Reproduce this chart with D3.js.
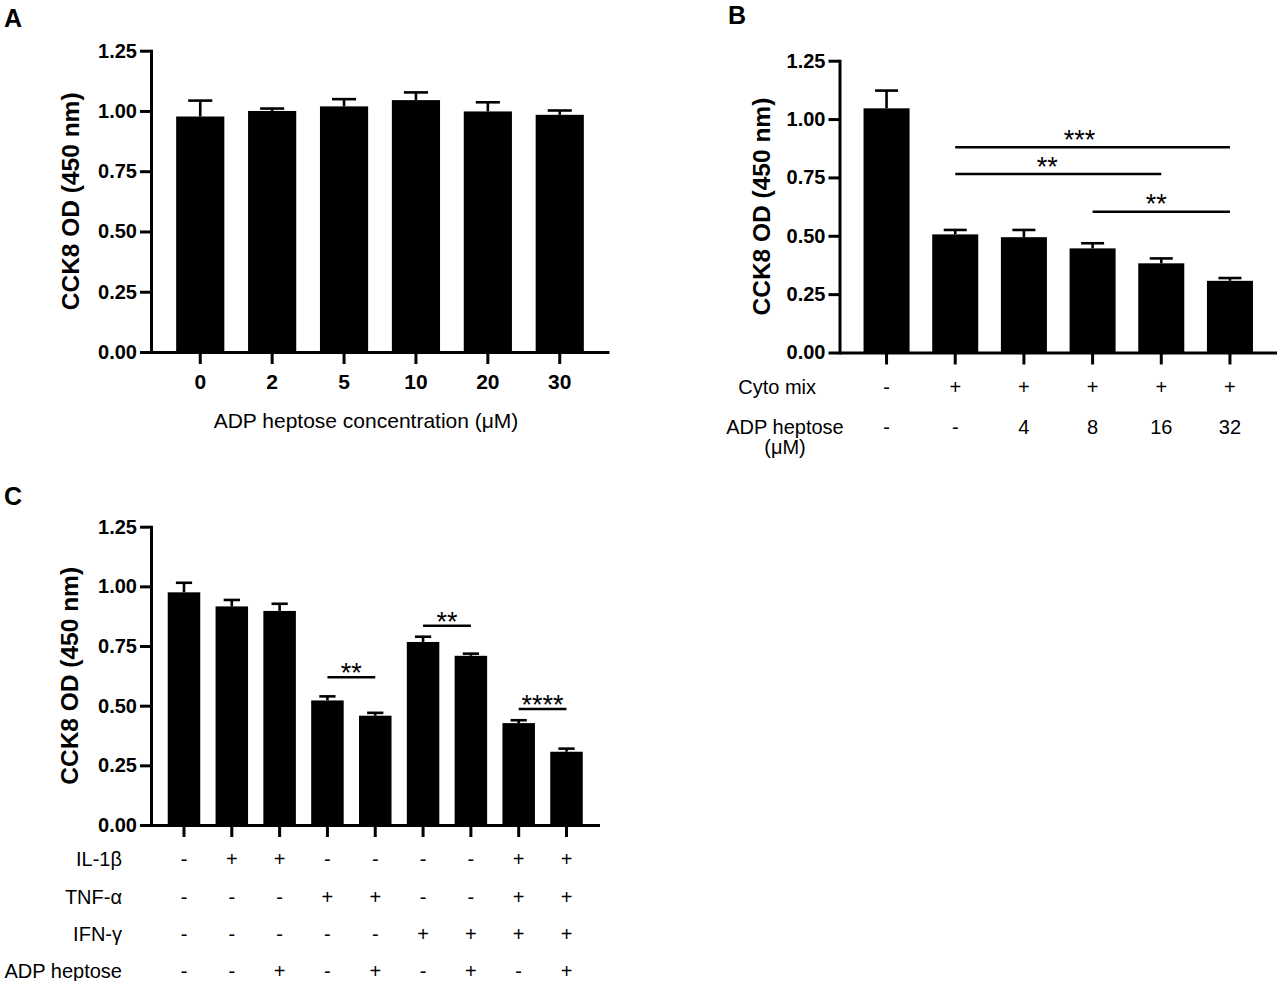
<!DOCTYPE html>
<html><head><meta charset="utf-8">
<script src="https://cdn.jsdelivr.net/npm/d3@7"></script>
<style>
body{margin:0;background:#fff}
svg{display:block}
text{font-family:'Liberation Sans',Arial,Helvetica,sans-serif;fill:#000}
</style>
</head><body>
<svg id="chart" width="1277" height="981"></svg>
<script>
// ---------- data ----------
const yTickValues = [0, 0.25, 0.5, 0.75, 1.0, 1.25];
const yAxisTitle = "CCK8 OD (450 nm)";

// Panel A
const aCategories = ["0", "2", "5", "10", "20", "30"];
const aMeans = [0.977, 1.000, 1.019, 1.045, 0.998, 0.984];
const aSem   = [0.066, 0.010, 0.030, 0.032, 0.038, 0.018];
const aXTitle = "ADP heptose concentration (\u03BCM)";

// Panel B
const bCategories = ["b1", "b2", "b3", "b4", "b5", "b6"];
const bMeans = [1.046, 0.506, 0.494, 0.446, 0.382, 0.307];
const bSem   = [0.076, 0.019, 0.031, 0.022, 0.021, 0.012];
const bRowNames = ["Cyto mix", "ADP heptose"];
const bCytoMix = ["-", "+", "+", "+", "+", "+"];
const bHeptose = ["-", "-", "4", "8", "16", "32"];
const bSigFrom  = [1, 1, 3];
const bSigTo    = [5, 4, 5];
const bSigLevel = [0.879, 0.765, 0.603];
const bSigLabel = ["***", "**", "**"];

// Panel C
const cCategories = ["c1", "c2", "c3", "c4", "c5", "c6", "c7", "c8", "c9"];
const cMeans = [0.975, 0.916, 0.897, 0.522, 0.458, 0.767, 0.709, 0.427, 0.307];
const cSem   = [0.040, 0.027, 0.030, 0.017, 0.012, 0.022, 0.009, 0.012, 0.013];
const cRowNames = ["IL-1\u03B2", "TNF-\u03B1", "IFN-\u03B3", "ADP heptose"];
const cIL1b    = ["-", "+", "+", "-", "-", "-", "-", "+", "+"];
const cTNFa    = ["-", "-", "-", "+", "+", "-", "-", "+", "+"];
const cIFNg    = ["-", "-", "-", "-", "-", "+", "+", "+", "+"];
const cHeptose = ["-", "-", "+", "-", "+", "-", "+", "-", "+"];
const cSigFrom  = [3, 5, 7];
const cSigTo    = [4, 6, 8];
const cSigLevel = [0.619, 0.835, 0.486];
const cSigLabel = ["**", "**", "****"];

// ---------- drawing ----------
const svg = d3.select("#chart");
const STAR_FS = 27;

function drawPanel(o) {
  const g = svg.append("g");
  const y = d3.scaleLinear().domain([0, 1.25]).range([o.yBottom, o.yTop]);
  const x = d3.scaleBand().domain(o.categories).range([o.xLeft, o.xRight])
    .paddingInner(o.pad).paddingOuter(0.35);
  const bw = x.bandwidth();
  const cx = c => x(c) + bw / 2;

  // bars
  g.selectAll("rect.bar").data(o.categories).join("rect")
    .attr("x", c => x(c)).attr("width", bw)
    .attr("y", (c, i) => y(o.means[i]))
    .attr("height", (c, i) => y(0) - y(o.means[i]))
    .attr("fill", "#000");

  // error bars
  const eb = g.append("g").attr("stroke", "#000").attr("stroke-width", 2.6);
  o.categories.forEach((c, i) => {
    const top = y(o.means[i] + o.sem[i]);
    eb.append("line").attr("x1", cx(c)).attr("x2", cx(c))
      .attr("y1", y(o.means[i])).attr("y2", top);
    eb.append("line").attr("x1", cx(c) - bw / 4).attr("x2", cx(c) + bw / 4)
      .attr("y1", top).attr("y2", top);
  });

  // y axis
  const ya = g.append("g").attr("transform", `translate(${o.xLeft},0)`)
    .call(d3.axisLeft(y).tickValues(yTickValues).tickFormat(d3.format(".2f"))
      .tickSize(11).tickSizeOuter(0).tickPadding(3));
  ya.select(".domain").attr("stroke-width", 3).attr("stroke-linecap", "square");
  ya.selectAll(".tick line").attr("stroke-width", 3);
  ya.selectAll(".tick text").attr("font-size", 20).attr("font-weight", "bold")
    .attr("font-family", "'Liberation Sans',Arial,sans-serif");

  // x axis
  const xa = g.append("g").attr("transform", `translate(0,${o.yBottom})`)
    .call(d3.axisBottom(x).tickSize(12).tickSizeOuter(0).tickPadding(10)
      .tickFormat(o.showXLabels ? (d => d) : () => ""));
  xa.select(".domain").attr("stroke-width", 3);
  xa.selectAll(".tick line").attr("stroke-width", 3);
  xa.selectAll(".tick text").attr("font-size", 21).attr("font-weight", "bold")
    .attr("font-family", "'Liberation Sans',Arial,sans-serif");

  // y title
  g.append("text")
    .attr("transform", `translate(${o.titleX},${(o.yTop + o.yBottom) / 2}) rotate(-90)`)
    .attr("text-anchor", "middle").attr("dominant-baseline", "central")
    .attr("font-size", 24.5).attr("font-weight", "bold").text(yAxisTitle);

  // panel letter
  g.append("text").attr("x", o.letterX).attr("y", o.letterY)
    .attr("font-size", 25).attr("font-weight", "bold").text(o.letter);

  // significance
  if (o.sigFrom) {
    const sg = g.append("g");
    o.sigFrom.forEach((f, k) => {
      const x1 = cx(o.categories[f]), x2 = cx(o.categories[o.sigTo[k]]);
      const ly = y(o.sigLevel[k]);
      const shift = o.starShift ? o.starShift[k] : 0;
      sg.append("line").attr("x1", x1).attr("x2", x2).attr("y1", ly).attr("y2", ly)
        .attr("stroke", "#000").attr("stroke-width", 2.5);
      sg.append("text").attr("x", (x1 + x2) / 2 + shift)
        .attr("y", ly - o.starGap + 0.578 * STAR_FS)
        .attr("text-anchor", "middle").attr("font-size", STAR_FS)
        .text(o.sigLabel[k]);
    });
  }

  // condition rows
  if (o.rows) {
    o.rows.forEach((r, k) => {
      g.append("text").attr("x", o.rowNameX).attr("y", o.rowY[k])
        .attr("text-anchor", o.rowNameAnchor).attr("dominant-baseline", "central")
        .attr("font-size", 20).text(o.rowNames[k]);
      g.selectAll(null).data(r).join("text")
        .attr("x", (d, i) => cx(o.categories[i])).attr("y", o.rowY[k])
        .attr("text-anchor", "middle").attr("dominant-baseline", "central")
        .attr("font-size", 20).text(d => d);
    });
  }
  return {g, x, y};
}

// Panel A
const pA = drawPanel({
  categories: aCategories, means: aMeans, sem: aSem, pad: 0.33,
  xLeft: 151, xRight: 609, yTop: 50.7, yBottom: 352,
  showXLabels: true, titleX: 70, letter: "A", letterX: 4, letterY: 27
});
pA.g.append("text").attr("x", 366).attr("y", 428).attr("text-anchor", "middle")
  .attr("font-size", 21).text(aXTitle);

// Panel B
const pB = drawPanel({
  categories: bCategories, means: bMeans, sem: bSem, pad: 0.33,
  xLeft: 839.5, xRight: 1277, yTop: 60.7, yBottom: 352.5,
  showXLabels: false, titleX: 761, letter: "B", letterX: 728, letterY: 24,
  sigFrom: bSigFrom, sigTo: bSigTo, sigLevel: bSigLevel, sigLabel: bSigLabel,
  starGap: 14, starShift: [-13, -11, -5],
  rows: [bCytoMix, bHeptose], rowNames: bRowNames, rowY: [387, 427],
  rowNameX: 816, rowNameAnchor: "end"
});
pB.g.selectAll("text").filter(function(){ return d3.select(this).text() === "ADP heptose"; })
  .attr("x", 785).attr("text-anchor", "middle");
pB.g.append("text").attr("x", 785).attr("y", 447).attr("text-anchor", "middle")
  .attr("dominant-baseline", "central").attr("font-size", 20).text("(\u03BCM)");

// Panel C
drawPanel({
  categories: cCategories, means: cMeans, sem: cSem, pad: 0.32,
  xLeft: 151, xRight: 599.5, yTop: 526.7, yBottom: 825,
  showXLabels: false, titleX: 69, letter: "C", letterX: 4, letterY: 505,
  sigFrom: cSigFrom, sigTo: cSigTo, sigLevel: cSigLevel, sigLabel: cSigLabel, starGap: 10.5,
  rows: [cIL1b, cTNFa, cIFNg, cHeptose], rowNames: cRowNames, rowY: [859, 897, 934, 971],
  rowNameX: 122, rowNameAnchor: "end"
});
</script>
</body></html>
